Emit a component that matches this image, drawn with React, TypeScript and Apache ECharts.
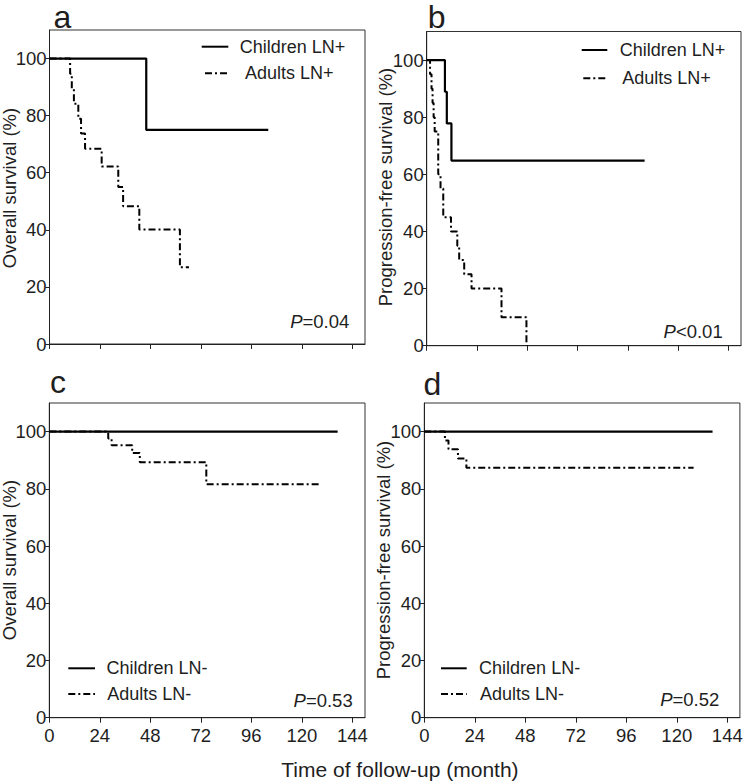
import React, { useEffect, useRef } from "react";
import * as echarts from "echarts";

// ---------- data ----------
const xTickValues = [0, 24, 48, 72, 96, 120, 144];
const yTickValues = [0, 20, 40, 60, 80, 100];

// panel a: overall survival, LN+
const aChildTime = [0, 46, 104];
const aChildSurv = [100, 75, 75];
const aAdultTime = [0, 9.8, 10.6, 11.6, 13.7, 15.0, 16.9, 24.8, 32.7, 35.0, 42.7, 62.0, 66.3];
const aAdultSurv = [100, 94.7, 89.5, 84.2, 78.9, 73.7, 68.4, 62.2, 55.0, 48.3, 40.1, 26.9, 26.9];

// panel b: progression-free survival, LN+
const bChildTime = [0, 8.7, 9.6, 11.8, 104];
const bChildSurv = [100, 88.9, 77.8, 64.8, 64.8];
const bAdultTime = [0, 1.6, 2.3, 2.8, 3.3, 3.8, 5.5, 6.6, 7.9, 11.6, 14.6, 15.5, 17.9, 21.4, 35.7, 47.6];
const bAdultSurv = [100, 95, 90, 85, 80, 75, 60, 55, 45, 40, 35, 30, 25, 20, 10, 0];

// panel c: overall survival, LN-
const cChildTime = [0, 137];
const cChildSurv = [100, 100];
const cAdultTime = [0, 28.0, 29.6, 39.4, 43.0, 74.6, 129];
const cAdultSurv = [100, 97.6, 95.2, 92.5, 89.3, 81.6, 81.6];

// panel d: progression-free survival, LN-
const dChildTime = [0, 137];
const dChildSurv = [100, 100];
const dAdultTime = [0, 9.8, 11.5, 16.0, 20.0, 128];
const dAdultSurv = [100, 96.9, 93.8, 90.6, 87.4, 87.4];

const panelLetters = ["a", "b", "c", "d"];
const yTitles = ["Overall survival (%)", "Progression-free survival (%)", "Overall survival (%)", "Progression-free survival (%)"];
const childNames = ["Children LN+", "Children LN+", "Children LN-", "Children LN-"];
const adultNames = ["Adults LN+", "Adults LN+", "Adults LN-", "Adults LN-"];
const pTexts = ["=0.04", "<0.01", "=0.53", "=0.52"];
const xTitle = "Time of follow-up (month)";

// ---------- layout / style ----------
const FONT = '"Liberation Sans", Arial, Helvetica, sans-serif';
const TXT = "#1e1e1e";
const DASH = [7, 3, 2, 3];

const grids = [
  { left: 49.5, top: 30, width: 315.5, height: 314 },
  { left: 426.7, top: 31.5, width: 314.3, height: 314.2 },
  { left: 49.3, top: 403, width: 315.7, height: 314.7 },
  { left: 424.3, top: 403, width: 315.6, height: 314.7 },
];

const zip = (t: number[], s: number[]) => t.map((v, i) => [v, s[i]]);

function textEl(text: string, x: number, y: number, size: number, align = "left", vAlign = "middle", extra: any = {}) {
  return {
    type: "text",
    x,
    y,
    silent: true,
    ...extra,
    style: {
      text,
      fontSize: size,
      fontFamily: FONT,
      fill: TXT,
      align,
      textAlign: align,
      verticalAlign: vAlign,
      textVerticalAlign: vAlign,
      ...(extra.style || {}),
    },
  };
}

function lineEl(x1: number, x2: number, y: number, dashed: boolean) {
  return {
    type: "line",
    silent: true,
    shape: { x1, y1: y, x2, y2: y },
    style: { stroke: "#000", lineWidth: 2, lineDash: dashed ? DASH : null },
  };
}

export default function App() {
  const ref = useRef<HTMLDivElement>(null);

  useEffect(() => {
    if (!ref.current) return;
    const chart = echarts.init(ref.current, null, { renderer: "svg" });

    const childData = [
      zip(aChildTime, aChildSurv),
      zip(bChildTime, bChildSurv),
      zip(cChildTime, cChildSurv),
      zip(dChildTime, dChildSurv),
    ];
    const adultData = [
      zip(aAdultTime, aAdultSurv),
      zip(bAdultTime, bAdultSurv),
      zip(cAdultTime, cAdultSurv),
      zip(dAdultTime, dAdultSurv),
    ];

    const xAxes = grids.map((_, i) => ({
      type: "value",
      gridIndex: i,
      min: 0,
      max: 150,
      interval: 24,
      axisLine: { show: true, onZero: false, lineStyle: { color: "#222", width: 1 } },
      axisTick: { show: true, inside: false, length: 5, customValues: xTickValues, lineStyle: { color: "#222", width: 1 } },
      axisLabel: {
        show: i >= 2,
        customValues: xTickValues,
        margin: 8,
        fontSize: 18.5,
        fontFamily: FONT,
        color: TXT,
      },
      splitLine: { show: false },
    }));

    const yAxes = grids.map((_, i) => ({
      type: "value",
      gridIndex: i,
      min: 0,
      max: 110,
      interval: 20,
      axisLine: { show: true, onZero: false, lineStyle: { color: "#222", width: 1 } },
      axisTick: { show: true, inside: false, length: 4, customValues: yTickValues, lineStyle: { color: "#222", width: 1 } },
      axisLabel: {
        show: true,
        customValues: yTickValues,
        margin: 3,
        fontSize: 18.5,
        fontFamily: FONT,
        color: TXT,
      },
      splitLine: { show: false },
    }));

    const series: any[] = [];
    grids.forEach((_, i) => {
      series.push({
        name: adultNames[i],
        type: "line",
        xAxisIndex: i,
        yAxisIndex: i,
        step: "end",
        symbol: "none",
        showSymbol: false,
        silent: true,
        data: adultData[i],
        lineStyle: { color: "#000", width: 2, type: DASH },
        z: 2,
      });
      series.push({
        name: childNames[i],
        type: "line",
        xAxisIndex: i,
        yAxisIndex: i,
        step: "end",
        symbol: "none",
        showSymbol: false,
        silent: true,
        data: childData[i],
        lineStyle: { color: "#000", width: 2.2, type: "solid" },
        z: 3,
      });
    });

    // annotation positions
    const letterPos = [
      [53.5, 16.5],
      [427.8, 17],
      [50, 382],
      [423.5, 384],
    ];
    const yTitlePos = [
      [9.8, 188],
      [385, 187],
      [9.8, 560],
      [383, 560],
    ];
    const legendLines = [
      { solid: [201.7, 228.3, 46.7], dashed: [205, 230, 73.3], tc: 239.8, ta: 245 },
      { solid: [581.7, 607.3, 50], dashed: [583.3, 608.3, 78.3], tc: 619.8, ta: 622.3 },
      { solid: [68.3, 95, 668.3], dashed: [68.3, 95, 694], tc: 106.4, ta: 107.3 },
      { solid: [441, 466.7, 668.3], dashed: [441, 466.7, 694], tc: 479.1, ta: 480 },
    ];
    const pPos = [
      [349.3, 321.7],
      [722.7, 331.2],
      [352.7, 700],
      [719.3, 699],
    ];

    const graphic: any[] = [];
    grids.forEach((_, i) => {
      graphic.push(textEl(panelLetters[i], letterPos[i][0], letterPos[i][1], 32));
      graphic.push(
        textEl(yTitles[i], yTitlePos[i][0], yTitlePos[i][1], 18.5, "center", "middle", { rotation: Math.PI / 2 })
      );
      const L = legendLines[i];
      graphic.push(lineEl(L.solid[0], L.solid[1], L.solid[2], false));
      graphic.push(lineEl(L.dashed[0], L.dashed[1], L.dashed[2], true));
      graphic.push(textEl(childNames[i], L.tc, L.solid[2], 18));
      graphic.push(textEl(adultNames[i], L.ta, L.dashed[2], 18));
      graphic.push({
        type: "text",
        x: pPos[i][0],
        y: pPos[i][1],
        silent: true,
        style: {
          text: "{i|P}{n|" + pTexts[i] + "}",
          fontSize: 18.5,
          fontFamily: FONT,
          fill: TXT,
          align: "right",
          textAlign: "right",
          verticalAlign: "middle",
          textVerticalAlign: "middle",
          rich: {
            i: { fontStyle: "italic", fontSize: 18.5, fontFamily: FONT, fill: TXT, color: TXT },
            n: { fontSize: 18.5, fontFamily: FONT, fill: TXT, color: TXT },
          },
        },
      });
    });
    graphic.push(textEl(xTitle, 281.3, 769, 21));

    chart.setOption({
      animation: false,
      backgroundColor: "#ffffff",
      grid: grids.map((g) => ({
        ...g,
        containLabel: false,
        outerBoundsMode: "none",
        show: true,
        borderColor: "#333",
        borderWidth: 1,
        backgroundColor: "transparent",
      })),
      xAxis: xAxes,
      yAxis: yAxes,
      series,
      graphic,
    } as any);

    return () => chart.dispose();
  }, []);

  return (
    <div
      ref={ref}
      style={{ position: "absolute", left: 0, top: 0, width: 743, height: 782, background: "#fff" }}
    />
  );
}
